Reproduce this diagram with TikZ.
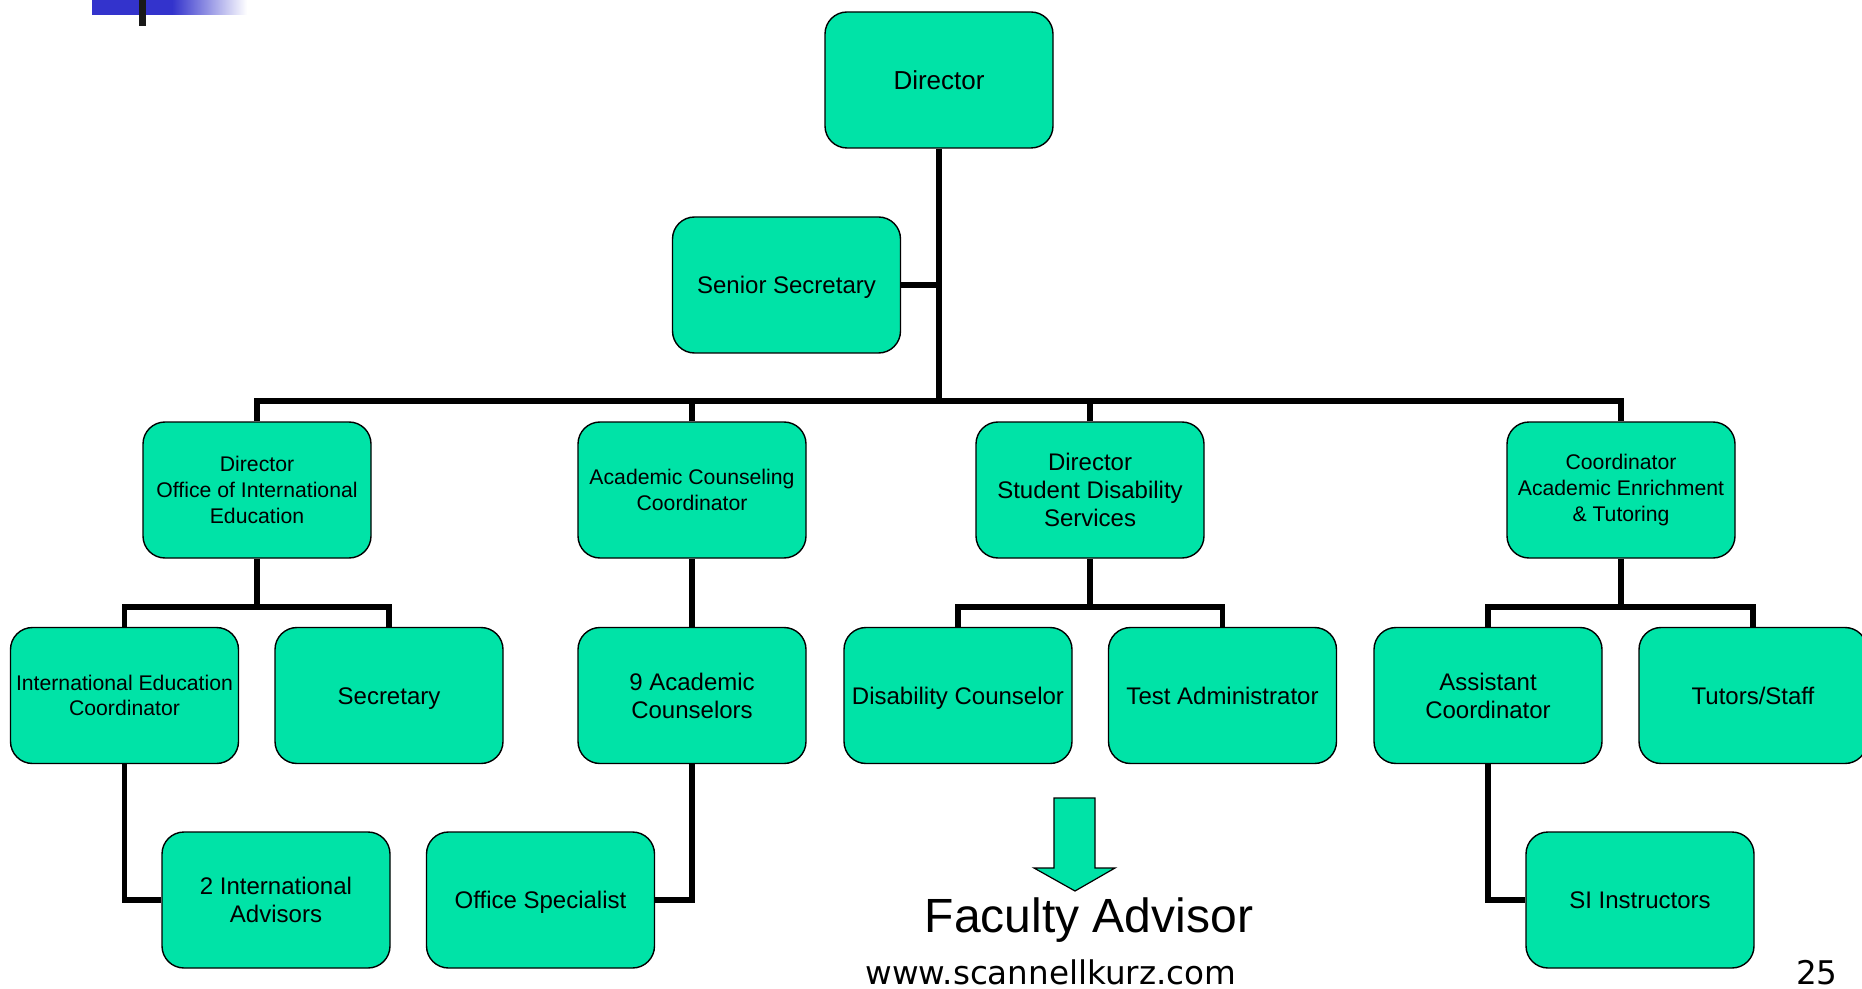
\documentclass[tikz,border=0pt]{standalone}
\usepackage{fontspec}
\setmainfont{Liberation Sans}
\newfontfamily\sitefont{DejaVu Sans}
\usepackage{xcolor}
\usepackage{tikz}
\usetikzlibrary{positioning}
\definecolor{orggreen}{RGB}{0,227,167}
\definecolor{orgblue}{RGB}{51,51,204}
\definecolor{orgink}{RGB}{25,25,25}

\begin{document}
\begin{tikzpicture}[
    x=0.5pt, y=-0.5pt,
    unit/.style={draw=black, line width=0.7pt, rounded corners=11pt, fill=orggreen, align=center, minimum width=114pt, minimum height=68pt, inner sep=1pt, font=\fontsize{12}{14}\selectfont},
    smallunit/.style={unit, font=\fontsize{10.6}{12.9}\selectfont},
    oneline/.style={unit, text height=8.6pt, text depth=0pt},
    topunit/.style={unit, font=\fontsize{13}{15}\selectfont, text height=9.3pt, text depth=0pt},
    link/.style={line width=2.75pt, draw=black},
    blockarrow/.style={draw=black, line width=0.6pt, fill=orggreen},
    sitelabel/.style={anchor=base, inner sep=0pt, font=\sitefont\fontsize{16.3}{19}\selectfont}
]
\useasboundingbox (0,0) rectangle (1862,989);
\fill[orgblue] (92,0) rectangle (172,15);
\shade[left color=orgblue, right color=white] (172,0) rectangle (247,15);
\fill[orgink] (139,0) rectangle (146,26);
\coordinate (topbus) at (0,401);
\coordinate (lowbus) at (0,607);
\node[topunit] (director) at (939,80) {Director};
\node[oneline] (srsec) at (786.5,285) {Senior Secretary};
\node[smallunit] (oie) at (257,490) {Director\\Office of International\\Education};
\node[smallunit] (acc) at (692,490) {Academic Counseling\\Coordinator};
\node[unit] (dsds) at (1090,490) {Director\\Student Disability\\Services};
\node[smallunit] (caet) at (1621,490) {Coordinator\\Academic Enrichment\\\& Tutoring};
\node[smallunit] (iec) at (124.5,695.5) {International Education\\Coordinator};
\node[oneline] (sec) at (389,695.5) {Secretary};
\node[unit] (nineac) at (692,695.5) {9 Academic\\Counselors};
\node[oneline] (dc) at (958,695.5) {Disability Counselor};
\node[oneline] (ta) at (1222.5,695.5) {Test Administrator};
\node[unit] (asst) at (1488,695.5) {Assistant\\Coordinator};
\node[oneline] (tutors) at (1753,695.5) {Tutors/Staff};
\node[unit] (intadv) at (276,900) {2 International\\Advisors};
\node[oneline] (offspec) at (540.5,900) {Office Specialist};
\node[oneline] (si) at (1640,900) {SI Instructors};
\draw[link] (director.south) -- (director.south |- topbus);
\draw[link] (srsec.east) -- (srsec.east -| director.south);
\draw[link] (oie.north) -- (oie.north |- topbus) -| (caet.north);
\draw[link] (acc.north) -- (acc.north |- topbus);
\draw[link] (dsds.north) -- (dsds.north |- topbus);
\draw[link] (oie.south) -- (oie.south |- lowbus);
\draw[link] (iec.north) -- (iec.north |- lowbus) -| (sec.north);
\draw[link] (acc.south) -- (nineac.north);
\draw[link] (dsds.south) -- (dsds.south |- lowbus);
\draw[link] (dc.north) -- (dc.north |- lowbus) -| (ta.north);
\draw[link] (caet.south) -- (caet.south |- lowbus);
\draw[link] (asst.north) -- (asst.north |- lowbus) -| (tutors.north);
\draw[link] (iec.south) |- (intadv.west);
\draw[link] (nineac.south) |- (offspec.east);
\draw[link] (asst.south) |- (si.west);
\draw[blockarrow] (1054,798) -- (1095,798) -- (1095,868) -- (1115,868) -- (1075,891) -- (1034,868) -- (1054,868) -- cycle;
\node[anchor=base, inner sep=0pt, font=\fontsize{24}{28}\selectfont] (faculty) at (1089,932) {Faculty Advisor};
\node[sitelabel] (site) at (1051,984) {www.scannellkurz.com};
\node[sitelabel, anchor=base east] (page) at (1838,984) {25};
\end{tikzpicture}
\end{document}
